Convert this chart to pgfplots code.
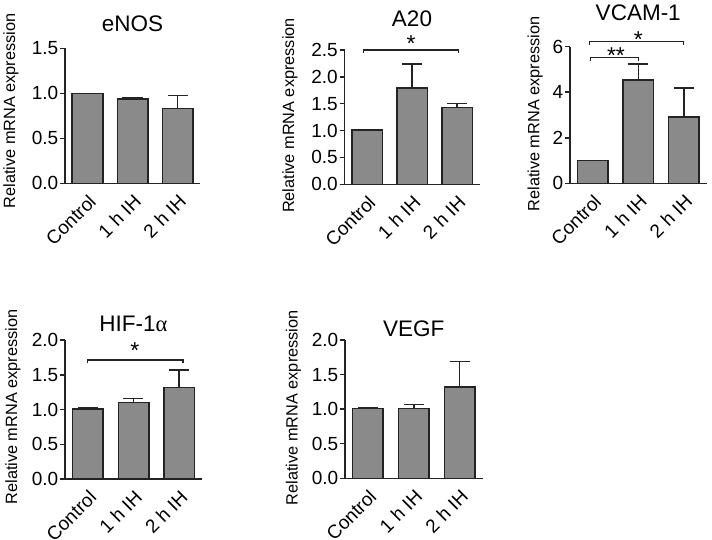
\documentclass[border=0pt]{standalone}
\usepackage{fontspec}
\setmainfont{Liberation Sans}
\newfontfamily\symfont{Liberation Serif}
\usepackage{pgfplots}
\pgfplotsset{compat=1.18}

\definecolor{barfill}{RGB}{138,138,138}
\definecolor{ink}{RGB}{35,35,35}
\newcommand\tickfont{\fontsize{19}{21}\selectfont}
\newcommand\labfont{\fontsize{16.3}{18}\selectfont}
\newcommand\titfont{\fontsize{22.5}{24}\selectfont}
\newcommand\starfont{\fontsize{23}{24}\selectfont}

\pgfplotsset{
  panel/.style={
    scale only axis,
    axis lines=left,
    axis line style={line width=1.5pt, ink, -},
    ymin=0, xmin=-0.5, xmax=2.5,
    xtick={0,1,2},
    xticklabels={Control,1 h IH,2 h IH},
    x tick label style={rotate=45, anchor=north east, font=\tickfont, inner sep=3.5pt},
    y tick label style={font=\tickfont, inner sep=1.5pt},
    major x tick style={draw=none},
    major y tick style={line width=1.5pt, ink},
    tick align=outside,
    major tick length=5pt,
    ylabel={Relative mRNA expression},
    every axis y label/.style={rotate=90, anchor=center, font=\labfont},
    every axis title/.style={anchor=base, font=\titfont},
    ybar, bar width=30.5pt,
    clip=false,
    /pgf/number format/assume math mode=true,
  },
  dec/.style={yticklabel style={/pgf/number format/.cd, fixed, fixed zerofill, precision=1}},
  bars/.style={fill=barfill, draw=ink, line width=1.5pt,
    error bars/.cd, y dir=plus, y explicit,
    error bar style={line width=1.5pt, ink},
    error mark options={rotate=90, mark size=10pt, line width=1.5pt, ink}},
}

\begin{document}
\begin{tikzpicture}
\useasboundingbox (0,0) rectangle (712pt,-539pt);

% eNOS
\begin{axis}[panel, dec, at={(65pt,-183.3pt)}, anchor=south west,
  width=135pt, height=135pt, ymax=1.5, ytick={0,0.5,1,1.5},
  ylabel style={at={(axis description cs:-0.40,0.537)}},
  title={eNOS}, title style={at={(axis description cs:0.5,1.128)}}]
\addplot[bars] coordinates {(0,1.0) +- (0,0) (1,0.935) +- (0,0.02) (2,0.83) +- (0,0.145)};
\end{axis}

% A20
\begin{axis}[panel, dec, at={(344.5pt,-184.3pt)}, anchor=south west,
  width=135pt, height=134.3pt, ymax=2.5, ytick={0,0.5,1,1.5,2,2.5},
  ylabel style={at={(axis description cs:-0.404,0.512)}},
  title={A20}, title style={at={(axis description cs:0.5,1.174)}}]
\addplot[bars] coordinates {(0,1.01) +- (0,0.01) (1,1.79) +- (0,0.45) (2,1.43) +- (0,0.07)};
\draw[line width=1.2pt, ink] (axis cs:-0.075,2.44) -- (axis cs:-0.075,2.5) -- (axis cs:2.035,2.5) -- (axis cs:2.035,2.44);
\node[font=\starfont, anchor=base, yshift=-12pt] at (axis cs:0.98,2.69) {*};
\end{axis}

% VCAM-1
\begin{axis}[panel, at={(570pt,-183.3pt)}, anchor=south west,
  width=136.5pt, height=136.6pt, ymax=6, ytick={0,2,4,6},
  ylabel style={at={(axis description cs:-0.256,0.507)}},
  title={VCAM-1}, title style={at={(axis description cs:0.5,1.19)}}]
\addplot[bars] coordinates {(0,1.0) +- (0,0) (1,4.54) +- (0,0.69) (2,2.92) +- (0,1.27)};
\draw[line width=1.2pt, ink] (axis cs:-0.07,6.07) -- (axis cs:-0.07,6.22) -- (axis cs:2.0,6.22) -- (axis cs:2.0,6.07);
\node[font=\starfont, anchor=base, yshift=-12pt] at (axis cs:1.0,6.51) {*};
\draw[line width=1.2pt, ink] (axis cs:-0.05,5.37) -- (axis cs:-0.05,5.53) -- (axis cs:1.0,5.53) -- (axis cs:1.0,5.37);
\node[font=\starfont, anchor=base, yshift=-12pt] at (axis cs:0.51,5.81) {**};
\end{axis}

% HIF-1alpha
\begin{axis}[panel, dec, at={(65pt,-479pt)}, anchor=south west,
  width=137pt, height=139pt, ymax=2, ytick={0,0.5,1,1.5,2},
  ylabel style={at={(axis description cs:-0.38,0.518)}},
  title={HIF-1{\symfont α}}, title style={at={(axis description cs:0.5,1.058)}}]
\addplot[bars] coordinates {(0,1.01) +- (0,0.01) (1,1.10) +- (0,0.06) (2,1.32) +- (0,0.25)};
\draw[line width=1.2pt, ink] (axis cs:0.0,1.665) -- (axis cs:0.0,1.712) -- (axis cs:2.085,1.712) -- (axis cs:2.085,1.665);
\node[font=\starfont, anchor=base, yshift=-12pt] at (axis cs:1.03,1.90) {*};
\end{axis}

% VEGF
\begin{axis}[panel, dec, at={(345pt,-478.3pt)}, anchor=south west,
  width=137.5pt, height=138.3pt, ymax=2, ytick={0,0.5,1,1.5,2},
  ylabel style={at={(axis description cs:-0.375,0.51)}},
  title={VEGF}, title style={at={(axis description cs:0.5,1.024)}}]
\addplot[bars] coordinates {(0,1.01) +- (0,0.01) (1,1.01) +- (0,0.055) (2,1.32) +- (0,0.37)};
\end{axis}
\end{tikzpicture}
\end{document}
